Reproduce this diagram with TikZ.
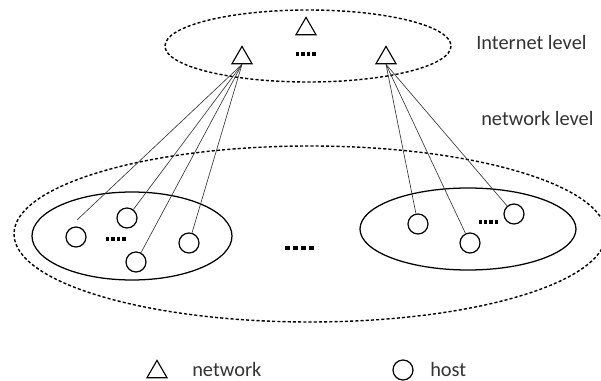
\documentclass[tikz,border=0pt]{standalone}
\usepackage{fontspec}
\setmainfont{Carlito}
\usetikzlibrary{shapes.geometric}

\tikzset{
    net/.style={draw, thick, regular polygon, regular polygon sides=3, minimum size=0.58cm, inner sep=0pt},
    host/.style={draw, line width=0.9pt, circle, minimum size=0.5cm, inner sep=0pt},
    level/.style={draw, line width=1pt, dash pattern=on 2.2pt off 1.5pt},
    group/.style={draw, line width=0.9pt},
    link/.style={draw, line width=0.45pt, black!80},
    lbl/.style={text=black!80, font=\fontsize{14.5}{16}\selectfont, inner sep=0pt},
    gap/.style={line width=2.2pt, dash pattern=on #1 off 0.6*#1},
}

\begin{document}
\begin{tikzpicture}[x=0.025cm, y=-0.025cm]
    \useasboundingbox (0, 0) rectangle (601, 381);

    % levels
    \draw[level] (308, 46) ellipse (143 and 36);
    \draw[level] (310, 234) ellipse (296 and 88);
    \node[lbl, anchor=west] (inet) at (476, 42) {Internet level};
    \node[lbl, anchor=west] (nlev) at (481, 118) {network level};

    % networks
    \node[net] (n0) at (306, 29) {};
    \node[net] (n1) at (242, 58) {};
    \node[net] (n2) at (386, 58) {};
    \draw[gap=2.4pt] (296, 54) -- (316, 54);

    % left group
    \draw[group] (132, 236) ellipse (100 and 44);
    \node[host] (h1) at (76, 237) {};
    \node[host] (h2) at (127, 218) {};
    \node[host] (h3) at (136, 262) {};
    \node[host] (h4) at (189, 243) {};
    \coordinate (e1) at (77, 220);
    \draw[gap=2.4pt] (106, 239) -- (127, 239);

    % right group
    \draw[group] (468, 229) ellipse (108 and 41);
    \node[host] (h5) at (418, 224) {};
    \node[host] (h6) at (470, 243) {};
    \node[host] (h7) at (514, 214) {};
    \draw[gap=2.3pt] (479, 222) -- (498, 222);

    \draw[gap=3.6pt, line width=3pt] (285, 248) -- (316, 248);

    % links
    \draw[link] (n1.south) -- (e1);
    \draw[link] (n1.south) -- (h2);
    \draw[link] (n1.south) -- (h3);
    \draw[link] (n1.south) -- (h4);
    \draw[link] (n2.south) -- (h5);
    \draw[link] (n2.south) -- (h6);
    \draw[link] (n2.south) -- (h7);

    % legend
    \node[net] (kn) at (157, 372) {};
    \node[lbl, anchor=west] (kt) at (192, 369) {network};
    \node[host] (kh) at (403, 370) {};
    \node[lbl, anchor=west] (kc) at (430, 369) {host};
\end{tikzpicture}
\end{document}
